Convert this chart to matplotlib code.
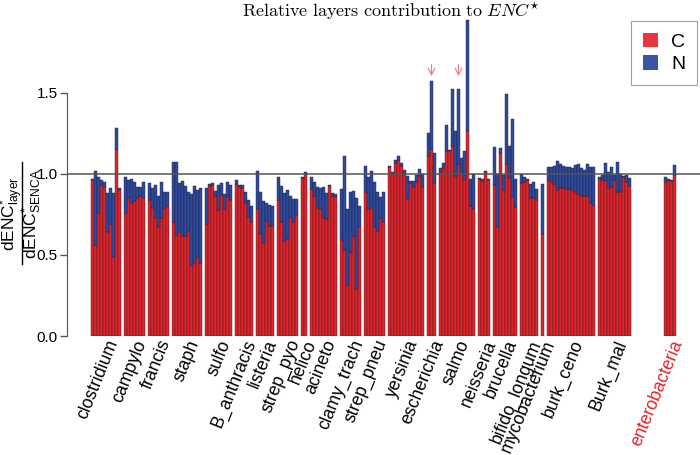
import numpy as np
import matplotlib
matplotlib.use("Agg")
import matplotlib.pyplot as plt
from matplotlib.patches import Patch
from matplotlib.lines import Line2D

plt.rcParams['font.family'] = 'Liberation Sans'
plt.rcParams['mathtext.fontset'] = 'custom'
plt.rcParams['mathtext.sf'] = 'Liberation Sans'
plt.rcParams['mathtext.rm'] = 'Liberation Sans'
plt.rcParams['mathtext.it'] = 'Liberation Sans:italic'

# species groups (order as on the x axis)
groups = ['clostridium', 'campylo', 'francis', 'staph', 'sulfo', 'B_anthracis',
          'listeria', 'strep_pyo', 'helico', 'acineto', 'clamy_trach', 'strep_pneu',
          'yersinia', 'escherichia', 'salmo', 'neisseria', 'brucella',
          'bifido_longum', 'mycobacterium', 'burk_ceno', 'Burk_mal', 'enterobacteria']

# C layer contribution, one list per group
c_vals = [
    [0.96, 0.56, 0.76, 0.93, 0.92, 0.64, 0.69, 0.49, 1.15, 0.90],
    [0.76, 0.85, 0.82, 0.83, 0.85, 0.86, 0.85],
    [0.84, 0.79, 0.73, 0.67, 0.73, 0.79, 0.80],
    [0.70, 0.62, 0.64, 0.615, 0.615, 0.645, 0.44, 0.45, 0.49, 0.45],
    [0.69, 0.925, 0.93, 0.86, 0.775, 0.87, 0.785, 0.855, 0.84],
    [0.935, 0.92, 0.91, 0.82, 0.735, 0.705],
    [0.78, 0.63, 0.575, 0.71, 0.675, 0.675],
    [0.84, 0.705, 0.585, 0.595, 0.735, 0.70, 0.745],
    [0.975, 1.0],
    [0.905, 0.86, 0.79, 0.78, 0.73, 0.72, 0.925, 0.86, 0.855],
    [0.59, 0.53, 0.315, 0.515, 0.615, 0.29, 0.67],
    [0.885, 0.785, 0.79, 0.67, 0.645, 0.73, 0.70],
    [1.04, 1.0, 1.065, 1.085, 1.045, 1.005, 0.845, 0.945, 0.92, 0.95, 0.985, 0.92],
    [1.11, 1.155, 0.94],
    [1.01, 1.035, 1.14, 1.14, 1.17, 0.985, 1.06, 1.0, 0.96, 1.265, 0.80, 0.78],
    [0.965, 0.955, 1.01, 0.96],
    [0.93, 0.67, 1.13, 0.90, 1.06, 0.975, 0.855, 0.795],
    [0.945, 0.95, 0.96, 0.85, 0.85, 0.84],
    [0.63],
    [0.96, 0.95, 0.935, 0.90, 0.915, 0.91, 0.905, 0.905, 0.90, 0.89, 0.875, 0.865,
     0.86, 0.865, 0.82, 0.81],
    [0.97, 0.96, 0.955, 0.91, 0.92, 0.96, 0.89, 0.89, 0.98, 0.95, 0.925],
    [0.95, 0.96, 0.955, 0.99],
]

# N layer contribution, stacked on top of C
n_vals = [
    [0.01, 0.46, 0.22, 0.03, 0.03, 0.24, 0.22, 0.39, 0.13, 0.01],
    [0.22, 0.11, 0.15, 0.12, 0.07, 0.06, 0.10],
    [0.10, 0.12, 0.20, 0.19, 0.22, 0.10, 0.09],
    [0.37, 0.45, 0.30, 0.34, 0.31, 0.245, 0.435, 0.475, 0.41, 0.465],
    [0.225, 0.01, 0.01, 0.035, 0.155, 0.07, 0.09, 0.095, 0.09],
    [0.025, 0.01, 0.02, 0.065, 0.105, 0.095],
    [0.24, 0.255, 0.255, 0.11, 0.135, 0.125],
    [0.14, 0.22, 0.295, 0.305, 0.125, 0.145, 0.10],
    [0.005, 0.01],
    [0.075, 0.09, 0.13, 0.13, 0.19, 0.16, 0.005, 0.02, 0.02],
    [0.315, 0.58, 0.465, 0.375, 0.28, 0.56, 0.13],
    [0.165, 0.195, 0.23, 0.28, 0.245, 0.125, 0.185],
    [0.005, 0.01, 0.02, 0.025, 0.02, 0.02, 0.14, 0.01, 0.035, 0.045, 0.045, 0.08],
    [0.14, 0.415, 0.19],
    [0.025, 0.03, 0.16, 0.005, 0.35, 0.28, 0.46, 0.10, 0.18, 0.68, 0.17, 0.22],
    [0.01, 0.01, 0.01, 0.01],
    [0.235, 0.33, 0.03, 0.095, 0.43, 0.195, 0.48, 0.175],
    [0.055, 0.03, 0.005, 0.085, 0.10, 0.065],
    [0.305],
    [0.08, 0.09, 0.11, 0.18, 0.145, 0.135, 0.135, 0.135, 0.135, 0.165, 0.185, 0.17,
     0.165, 0.195, 0.22, 0.23],
    [0.01, 0.03, 0.11, 0.10, 0.12, 0.03, 0.185, 0.11, 0.005, 0.04, 0.05],
    [0.03, 0.005, 0.005, 0.065],
]

# bars marked with an arrow: (group, index in group)
marked = [('escherichia', 1), ('salmo', 6)]

red = '#e0252c'
blue = '#2f4c9c'

fig = plt.figure(figsize=(7, 4.55), dpi=100)
ax = fig.add_axes([67 / 700, 1 - 336 / 455, 1 - 67 / 700, (336 - 18) / 455])

# bar positions: one empty slot between groups, a wider gap before the last one
positions = []
start = 0
for i, c in enumerate(c_vals):
    if groups[i] == 'enterobacteria':
        start += 10
    positions.append(np.arange(len(c)) + start)
    start += len(c) + 1

centers = []
for pos, c, n in zip(positions, c_vals, n_vals):
    ax.bar(pos, c, width=1.0, color=red, edgecolor='#3a1a1a', linewidth=0.3, zorder=2)
    ax.bar(pos, n, bottom=c, width=1.0, color=blue, edgecolor='#1a1a3a',
           linewidth=0.3, zorder=2)
    centers.append(pos.mean())

ax.axhline(1.0, color='#555555', lw=1.1, zorder=3)

for g, k in marked:
    gi = groups.index(g)
    x = positions[gi][k]
    ax.annotate('', xy=(x, 1.585), xytext=(x, 1.69),
                arrowprops=dict(arrowstyle='->', color='#f07a78', lw=0.8,
                                mutation_scale=12))

ax.set_xlim(-8.5, 202.5)
ax.set_ylim(0, 1.96)
ax.set_yticks([0, 0.5, 1.0, 1.5])
ax.set_yticklabels(['0.0', '0.5', '1.0', '1.5'], fontsize=11)
ax.tick_params(axis='y', length=5, width=1, color='#555555', pad=1.5)

ax.set_xticks(centers)
ax.set_xticklabels(groups, rotation=68, ha='right', va='top',
                   rotation_mode='anchor', fontsize=12.7)
ax.tick_params(axis='x', length=0, pad=1)
ax.get_xticklabels()[-1].set_color('#e0252c')

for s in ['top', 'right', 'bottom']:
    ax.spines[s].set_visible(False)
ax.spines['left'].set_bounds(0, 1.5)
ax.spines['left'].set_color('#555555')

# y label drawn as a stacked fraction: numerator, rule, denominator
ycen = 1 - 214 / 455
fig.text(15.5 / 700, ycen, r'$\mathsf{dENC}^{\mathsf{*}}_{\mathsf{layer}}$',
         rotation=90, ha='center', va='baseline', rotation_mode='anchor', fontsize=12.5)
fig.text(36.5 / 700, ycen, r'$\mathsf{dENC}^{\mathsf{*}}_{\mathsf{SENCA}}$',
         rotation=90, ha='center', va='baseline', rotation_mode='anchor', fontsize=12.5)
fig.add_artist(Line2D([21.5 / 700, 21.5 / 700], [1 - 264 / 455, 1 - 162 / 455],
                      transform=fig.transFigure, color='black', lw=1.0))

fig.text(391 / 700, 1 - 17 / 455,
         r'$\mathrm{Relative\ layers\ contribution\ to}\ ENC^{\star}$',
         ha='center', va='baseline', fontsize=13, math_fontfamily='cm')

handles = [Patch(facecolor='#e8343a', edgecolor='none', label='C'),
           Patch(facecolor='#3a55a5', edgecolor='none', label='N')]
leg = ax.legend(handles=handles, loc='upper right',
                bbox_to_anchor=(697 / 700, 1 - 21 / 455), bbox_transform=fig.transFigure,
                borderaxespad=0, fontsize=14, fancybox=False, frameon=True,
                handlelength=0.75, handleheight=0.75, handletextpad=0.7,
                labelspacing=0.25, borderpad=0.6)
leg.get_frame().set_edgecolor('#888888')
leg.get_frame().set_linewidth(0.8)

fig.savefig('out.png', dpi=100)
